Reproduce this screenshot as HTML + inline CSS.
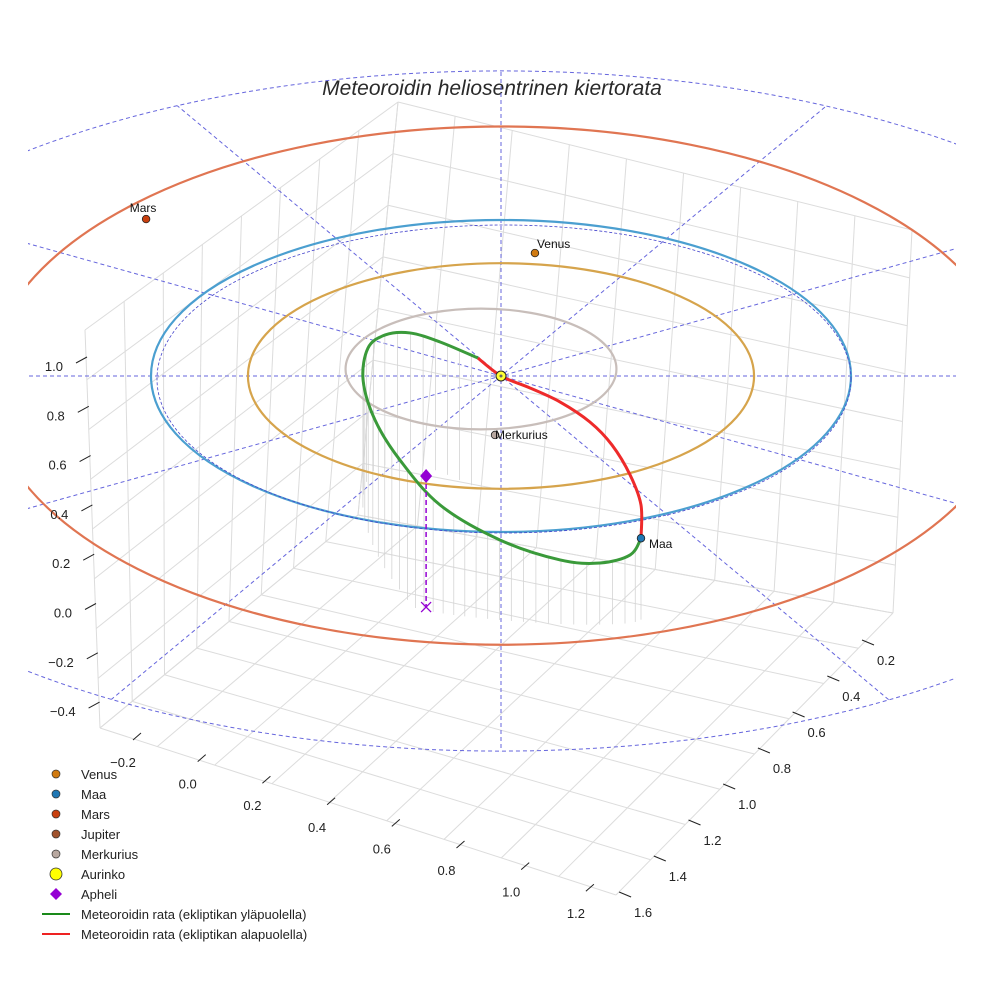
<!DOCTYPE html>
<html><head><meta charset="utf-8"><style>
html,body{margin:0;padding:0;background:#fff;overflow:hidden;width:984px;height:984px;}
svg{display:block;position:absolute;left:0;top:0;font-family:"Liberation Sans",sans-serif;}
</style></head><body>
<svg id="chart" width="984" height="984" viewBox="0 0 984 984" overflow="hidden">
<defs><clipPath id="pa"><rect x="28" y="0" width="928" height="984"/></clipPath></defs>
<rect width="984" height="984" fill="#fff"/>
<text x="492" y="95" text-anchor="middle" font-size="21" font-style="italic" fill="#2a2a2a">Meteoroidin heliosentrinen kiertorata</text>
<g id="box"></g>
<g clip-path="url(#pa)">
<g id="ecl"></g>
<g id="stems"></g>
<g id="orbits"></g>
</g>
<g id="meteor"></g>
<g id="marks"></g>
<g id="ticks"></g>
<g id="legend"></g>
</svg>
<script>
// ---- data ----
const orbitNames = ["Merkurius","Venus","Maa","Mars"];
const orbitA = [0.387, 0.723, 1.0, 1.524];
const orbitColors = ["#c8beba","#d6a44c","#4b9fd0","#e07552"];
const meteorX = [0.40,0.369,0.283,0.169,-0.003,-0.174,-0.289,-0.36,-0.394,-0.38,-0.331,-0.26,-0.174,-0.066];
const meteorY = [-1.04,-1.147,-1.199,-1.179,-1.051,-0.827,-0.538,-0.282,-0.026,0.179,0.263,0.276,0.218,0.115];
const meteorRedX = [-0.066,0,0.083,0.169,0.254,0.317,0.369,0.40,0.40];
const meteorRedY = [0.115,0,-0.077,-0.167,-0.295,-0.442,-0.635,-0.827,-1.04];
const planetNames = ["Venus","Maa","Mars","Merkurius"];
const planetX = [0.097,0.40,-1.014,-0.017];
const planetY = [0.788,-1.04,1.006,-0.378];
const planetColors = ["#d07a10","#1f77b4","#c8400f","#b8a8a0"];
const aphelX = -0.214, aphelY = -1.481, aphelZ = 0.535;
const zTicks = ["1.0","0.8","0.6","0.4","0.2","0.0","\u22120.2","\u22120.4"];
const xTicks = ["\u22120.2","0.0","0.2","0.4","0.6","0.8","1.0","1.2"];
const yTicks = ["0.2","0.4","0.6","0.8","1.0","1.2","1.4","1.6"];
const legendLabels = ["Venus","Maa","Mars","Jupiter","Merkurius","Aurinko","Apheli","Meteoroidin rata (ekliptikan yläpuolella)","Meteoroidin rata (ekliptikan alapuolella)"];

const NS="http://www.w3.org/2000/svg";
function mk(tag,attrs,parent){const e=document.createElementNS(NS,tag);for(const k in attrs)e.setAttribute(k,attrs[k]);parent.appendChild(e);return e;}
const SX=501, SY=376;
function px(X){return SX+350*X;}
function py(Y,Z){return SY-156*Y-245*(Z||0);}
function ellParams(a){
  const fx = a>1 ? 1-0.2*(a-1)+0.25*(a-1)*(a-1) : 1;
  const fy = a>1 ? 1.09 : 1;
  const shift = a>1 ? 35*(a-1)*(a-1) : 0;
  return {cx:SX, cy:SY+shift, rx:350*a*fx, ry:156*a*fy};
}
// ---- box ----
const box=document.getElementById('box');
function lerp(p,q,t){return [p[0]+(q[0]-p[0])*t,p[1]+(q[1]-p[1])*t];}
function quad(A,B,C,D,nu,nv,name){
  const g=mk('g',{},box);
  
  
  for(let i=0;i<=nu;i++){const t=i/nu;const p=lerp(A,B,t),q=lerp(D,C,t);
    mk('line',{x1:p[0],y1:p[1],x2:q[0],y2:q[1],stroke:'#dcdcdc','stroke-width':1},g);}
  for(let j=0;j<=nv;j++){const t=j/nv;const p=lerp(A,D,t),q=lerp(B,C,t);
    mk('line',{x1:p[0],y1:p[1],x2:q[0],y2:q[1],stroke:'#dcdcdc','stroke-width':1},g);}
}
const LF_T=[85,330], BK_T=[398,102], BK_B=[358,515], LF_B=[100,728], RT_T=[912,230], RT_B=[893,613], FR_B=[616,895];
quad(LF_T,BK_T,BK_B,LF_B,8,8,'left-wall-grid');
quad(BK_T,RT_T,RT_B,BK_B,9,8,'right-wall-grid');
quad(BK_B,RT_B,FR_B,LF_B,9,8,'floor-grid');
// ---- ecliptic reference ----
const ecl=document.getElementById('ecl');
const outer=ellParams(2.0);
const defs=mk('defs',{},ecl);
const cp=mk('clipPath',{id:'oc'},defs);
mk('ellipse',{cx:outer.cx,cy:outer.cy,rx:outer.rx,ry:outer.ry},cp);
const oe=mk('ellipse',{cx:outer.cx,cy:outer.cy,rx:outer.rx,ry:outer.ry,fill:'none',stroke:'#6666dd','stroke-width':1,'stroke-dasharray':'4,3'},ecl);


const rays=[[1,0],[0,1],[1,0.835],[1,-0.83],[1,0.28],[1,-0.28]];
const rg=mk('g',{'clip-path':'url(#oc)'},ecl);
rays.forEach(r=>{const L=1200;const dx=r[0],dy=r[1];
  const n=Math.hypot(dx,dy);
  const ln=mk('line',{x1:SX-dx/n*L,y1:SY-dy/n*L,x2:SX+dx/n*L,y2:SY+dy/n*L,stroke:'#6666dd','stroke-width':1,'stroke-dasharray':'4,3'},rg);
  
  });
// ---- orbits ----
const orb=document.getElementById('orbits');
orbitA.forEach((a,i)=>{const p=ellParams(a);let cx=p.cx,cy=p.cy;
  if(i===0){cx-=20;cy-=7;}
  const e=mk('ellipse',{cx:cx,cy:cy,rx:p.rx,ry:p.ry,fill:'none',stroke:orbitColors[i],'stroke-width':2.2},orb);
  
  
  if(i===2){const d=mk('ellipse',{cx:cx+3,cy:cy+3,rx:p.rx-3,ry:p.ry-2,fill:'none',stroke:'#4444cc','stroke-width':0.8,'stroke-dasharray':'3,2'},orb);
    
    }
});
// ---- meteoroid ----
const met=document.getElementById('meteor');
function smooth(xs,ys){const P=xs.map((x,i)=>[px(x),py(ys[i])]);let d='M'+P[0][0]+','+P[0][1];
  for(let i=0;i<P.length-1;i++){const p0=P[Math.max(0,i-1)],p1=P[i],p2=P[i+1],p3=P[Math.min(P.length-1,i+2)];
    d+=' C'+(p1[0]+(p2[0]-p0[0])/6)+','+(p1[1]+(p2[1]-p0[1])/6)+' '+(p2[0]-(p3[0]-p1[0])/6)+','+(p2[1]-(p3[1]-p1[1])/6)+' '+p2[0]+','+p2[1];}
  return d;}
const st=document.getElementById('stems');
const tmp=mk('path',{d:smooth(meteorX,meteorY),fill:'none'},st);
const Ltot=tmp.getTotalLength();
for(let s=0;s<Ltot;s+=13){const p=tmp.getPointAtLength(s);
  const len=Math.max(30,Math.min(130,(640-p.y)*0.8));
  const l=mk('line',{x1:p.x,y1:p.y,x2:p.x,y2:p.y+len,stroke:'#d4d4d4','stroke-width':0.8},st);
  
  }
st.removeChild(tmp);
const gp=mk('path',{d:smooth(meteorX,meteorY),fill:'none',stroke:'#3a9a3a','stroke-width':3},met);


const rp=mk('path',{d:smooth(meteorRedX,meteorRedY),fill:'none',stroke:'#ee2a2a','stroke-width':3},met);


// ---- markers ----
const mg=document.getElementById('marks');
const ax=px(aphelX), ay=py(aphelY,aphelZ), ay0=py(aphelY,0);
const ad=mk('line',{x1:ax,y1:ay,x2:ax,y2:ay0,stroke:'#9400d3','stroke-width':1.5,'stroke-dasharray':'5,3'},mg);


const xm=mk('path',{d:`M${ax-5},${ay0-5}L${ax+5},${ay0+5}M${ax-5},${ay0+5}L${ax+5},${ay0-5}`,stroke:'#9400d3','stroke-width':1.3},mg);


const dm=mk('path',{d:`M${ax},${ay-7}L${ax+6},${ay}L${ax},${ay+7}L${ax-6},${ay}Z`,fill:'#9400d3'},mg);


planetNames.forEach((n,i)=>{const x=px(planetX[i]),y=py(planetY[i]);
  const c=mk('circle',{cx:x,cy:y,r:3.8,fill:planetColors[i],stroke:'#222','stroke-width':0.8},mg);
  
  
  let tx=x+2,ty=y-5,anc='start';
  if(n==='Mars'){tx=x-3;ty=y-7;anc='middle';}
  if(n==='Maa'){tx=x+8;ty=y+10;}
  if(n==='Merkurius'){tx=x;ty=y+4;}
  const t=mk('text',{x:tx,y:ty,'font-size':12,fill:'#111','text-anchor':anc},mg);t.textContent=n;
  
  });
const sun=mk('circle',{cx:SX,cy:SY,r:5,fill:'#ffff33',stroke:'#222','stroke-width':1},mg);


const sd=mk('circle',{cx:SX,cy:SY,r:1.5,fill:'#666'},mg);


// ---- ticks ----
const tg=document.getElementById('ticks');
zTicks.forEach((t,i)=>{const y=366+i*49.3;const x=63+i*1.8;
  const tx=mk('text',{x:x,y:y+5,'font-size':13,fill:'#222','text-anchor':'end'},tg);tx.textContent=t;
  
  
  const l=mk('line',{x1:x+13,y1:y-3,x2:x+24,y2:y-9,stroke:'#222','stroke-width':1},tg);
  
  });
xTicks.forEach((t,i)=>{const x=123+i*64.7, y=762+i*21.6;
  const tx=mk('text',{x:x,y:y+5,'font-size':13,fill:'#222','text-anchor':'middle'},tg);tx.textContent=t;
  
  
  const l=mk('line',{x1:x+10,y1:y-22,x2:x+18,y2:y-29,stroke:'#222','stroke-width':1},tg);
  
  });
yTicks.forEach((t,i)=>{const x=886-i*34.7, y=660+i*36;
  const tx=mk('text',{x:x,y:y+5,'font-size':13,fill:'#222','text-anchor':'middle'},tg);tx.textContent=t;
  
  
  const l=mk('line',{x1:x-24,y1:y-20,x2:x-12,y2:y-15,stroke:'#222','stroke-width':1},tg);
  
  });
// ---- legend ----
const lg=document.getElementById('legend');
const legColors=["#d07a10","#1f77b4","#c8400f","#a0522d","#b8a8a0","#ffff00","#9400d3","#1a8a1a","#ee2222"];
legendLabels.forEach((lab,i)=>{const y=774+i*20;
  const g=mk('g',{},lg);
  
  
  if(i<5) mk('circle',{cx:56,cy:y,r:4,fill:legColors[i],stroke:'#333','stroke-width':0.7},g);
  else if(i===5) mk('circle',{cx:56,cy:y,r:6,fill:'#ffff00',stroke:'#333','stroke-width':0.8},g);
  else if(i===6) mk('path',{d:`M56,${y-6}L62,${y}L56,${y+6}L50,${y}Z`,fill:'#9400d3'},g);
  else mk('line',{x1:42,y1:y,x2:70,y2:y,stroke:legColors[i],'stroke-width':2},g);
  const t=mk('text',{x:81,y:y+5,'font-size':13,fill:'#222'},g);t.textContent=lab;});
</script>
</body></html>
